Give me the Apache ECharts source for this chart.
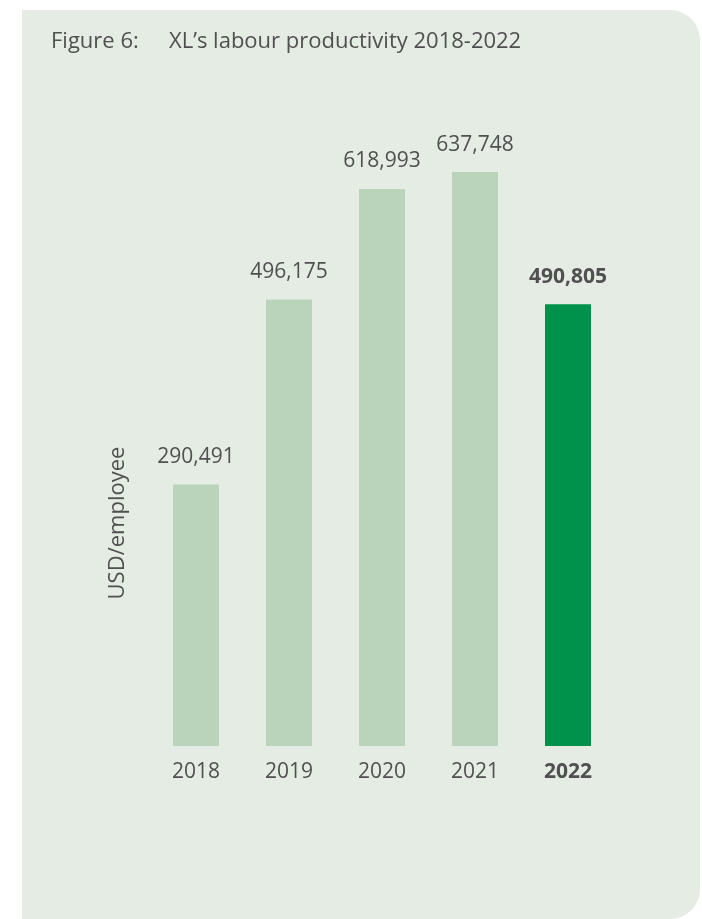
<!DOCTYPE html>
<html>
<head>
<meta charset="utf-8">
<script src="https://cdn.jsdelivr.net/npm/echarts@6/dist/echarts.min.js"></script>
<style>
  html, body { margin: 0; padding: 0; background: #ffffff; }
  #main { width: 702px; height: 919px; }
</style>
</head>
<body>
<div id="main"></div>
<script>
// data
var years = ["2018", "2019", "2020", "2021", "2022"];
var productivity = [290491, 496175, 618993, 637748, 490805];
var highlightYear = "2022";

var fontFamily = "'Open Sans', 'Noto Sans', sans-serif";
var textColor = "#505050";

var chartDom = document.getElementById("main");
var myChart = echarts.init(chartDom);

var barData = productivity.map(function (v, i) {
  var hi = years[i] === highlightYear;
  return {
    value: v,
    itemStyle: { color: hi ? "#00924a" : "#bad3bb" },
    label: { fontWeight: hi ? "bold" : "normal" }
  };
});

var option = {
  backgroundColor: "#ffffff",
  graphic: [
    {
      // panel behind the figure
      type: "rect",
      z: -10,
      silent: true,
      shape: { x: 22, y: 10, width: 678, height: 909, r: [0, 30, 30, 0] },
      style: { fill: "#e4ece3" }
    },
    {
      // y axis title, sits lower than the plot centre in the original
      type: "text",
      silent: true,
      x: 118,
      y: 523,
      rotation: Math.PI / 2,
      style: {
        text: "USD/employee",
        fontFamily: fontFamily,
        fontSize: 22,
        fill: textColor,
        align: "center",
        verticalAlign: "middle"
      }
    }
  ],
  title: [
    {
      text: "Figure 6:",
      left: 46,
      top: 26,
      textStyle: { fontFamily: fontFamily, fontSize: 22, fontWeight: "normal", color: textColor }
    },
    {
      text: "XL\u2019s labour productivity 2018-2022",
      left: 164,
      top: 26,
      textStyle: { fontFamily: fontFamily, fontSize: 22, fontWeight: "normal", color: textColor }
    }
  ],
  grid: {
    left: 149.5,
    right: 702 - 614.5,
    top: 116,
    bottom: 919 - 746
  },
  xAxis: {
    type: "category",
    data: years,
    axisLine: { show: false },
    axisTick: { show: false },
    axisLabel: {
      interval: 0,
      margin: 16,
      fontFamily: fontFamily,
      fontSize: 21,
      color: textColor,
      formatter: function (v) {
        return v === highlightYear ? "{b|" + v + "}" : v;
      },
      rich: {
        b: { fontFamily: fontFamily, fontSize: 21, fontWeight: "bold", color: textColor }
      }
    }
  },
  yAxis: {
    type: "value",
    min: 0,
    max: 700000,
    axisLine: { show: false },
    axisTick: { show: false },
    axisLabel: { show: false },
    splitLine: { show: false }
  },
  series: [
    {
      type: "bar",
      data: barData,
      barWidth: 46,
      label: {
        show: true,
        position: "top",
        distance: 17,
        fontFamily: fontFamily,
        fontSize: 21,
        color: textColor,
        formatter: function (p) {
          return p.value.toLocaleString("en-US");
        }
      }
    }
  ]
};

option && myChart.setOption(option);
</script>
</body>
</html>
